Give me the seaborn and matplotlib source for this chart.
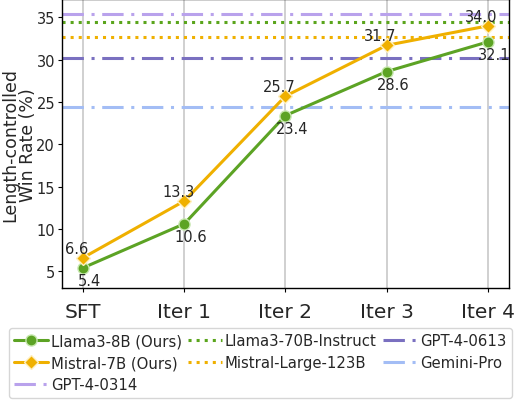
import numpy as np
import matplotlib
matplotlib.use("Agg")
import matplotlib.pyplot as plt
import seaborn as sns
import pandas as pd

iters = ["SFT", "Iter 1", "Iter 2", "Iter 3", "Iter 4"]
llama_vals = [5.4, 10.6, 23.4, 28.6, 32.1]
mistral_vals = [6.6, 13.3, 25.7, 31.7, 34.0]

ref_names = ["Llama3-70B-Instruct", "GPT-4-0613", "Mistral-Large-123B", "Gemini-Pro", "GPT-4-0314"]
ref_vals = [34.4, 30.2, 32.7, 24.4, 35.4]

green = "#5ca324"
orange = "#efb000"

sns.set_style("whitegrid")
plt.rcParams["font.family"] = ["DejaVu Sans"]

fig, ax = plt.subplots(figsize=(5.18, 4.02), dpi=100)

df = pd.DataFrame({
    "iter": list(range(len(iters))) * 2,
    "rate": llama_vals + mistral_vals,
    "model": ["Llama3-8B (Ours)"] * len(iters) + ["Mistral-7B (Ours)"] * len(iters),
})

sns.lineplot(data=df[df.model == "Llama3-8B (Ours)"], x="iter", y="rate", ax=ax,
             color=green, linewidth=2.2, marker="o", markersize=8,
             markeredgecolor="#c8e8b0", markeredgewidth=1, label="Llama3-8B (Ours)", zorder=3)
sns.lineplot(data=df[df.model == "Mistral-7B (Ours)"], x="iter", y="rate", ax=ax,
             color=orange, linewidth=2.2, marker="D", markersize=7.5,
             markeredgecolor="#fff0c0", markeredgewidth=1, label="Mistral-7B (Ours)", zorder=3)
ax.get_legend().remove()

dashdot = (0, (7, 2.5, 1, 2.5))
ref_styles = {
    "Llama3-70B-Instruct": dict(color="#5aa51c", linestyle=":", linewidth=2.2),
    "GPT-4-0613": dict(color="#7a70c0", linestyle=dashdot, linewidth=2.2),
    "Mistral-Large-123B": dict(color="#efb000", linestyle=":", linewidth=2.2),
    "Gemini-Pro": dict(color="#a3bdf5", linestyle=dashdot, linewidth=2.2),
    "GPT-4-0314": dict(color="#b9a2ec", linestyle=dashdot, linewidth=2.2),
}
for name, v in zip(ref_names, ref_vals):
    ax.axhline(v, label=name, zorder=1, **ref_styles[name])

for i, v in enumerate(llama_vals):
    ax.annotate(f"{v:.1f}", (i, v), xytext=(4.5, -4), textcoords="offset points",
                ha="center", va="top", fontsize=10.5, zorder=5)
for i, v in enumerate(mistral_vals):
    ax.annotate(f"{v:.1f}", (i, v), xytext=(-4.5, 3.6), textcoords="offset points",
                ha="center", va="baseline", fontsize=10.5, zorder=5)

ax.set_xticks(range(len(iters)))
ax.set_xticklabels(iters, fontsize=14.5)
ax.tick_params(axis="y", labelsize=10.5, pad=2)
ax.tick_params(axis="x", pad=7)
ax.tick_params(axis="both", length=3, color="black", left=True, bottom=True)
ax.set_xlim(-0.21, 4.21)
ax.set_ylim(3.0, 37.13)
ax.set_yticks([5, 10, 15, 20, 25, 30, 35])
ax.set_xlabel("")
ax.set_ylabel("Length-controlled\nWin Rate (%)", fontsize=12.5, linespacing=0.95)
ax.yaxis.set_label_coords(-0.057, 0.5)
ax.grid(axis="y", visible=False)
ax.grid(axis="x", color="#c8c8c8", linewidth=1.2)
for s in ax.spines.values():
    s.set_color("black")
    s.set_linewidth(1)

handles, labels = ax.get_legend_handles_labels()
order = ["Llama3-8B (Ours)", "Mistral-7B (Ours)", "GPT-4-0314",
         "Llama3-70B-Instruct", "Mistral-Large-123B",
         "GPT-4-0613", "Gemini-Pro"]
hmap = dict(zip(labels, handles))
fig.legend([hmap[k] for k in order], order, loc="upper center",
           bbox_to_anchor=(0.502, 0.2), ncol=3, fontsize=10.7,
           handlelength=2.3, handletextpad=0.2, columnspacing=0.4,
           labelspacing=0.48, borderpad=0.35, frameon=True)

fig.subplots_adjust(left=0.1197, right=0.9826, top=0.999, bottom=0.281)
fig.savefig("out.png", dpi=100)
